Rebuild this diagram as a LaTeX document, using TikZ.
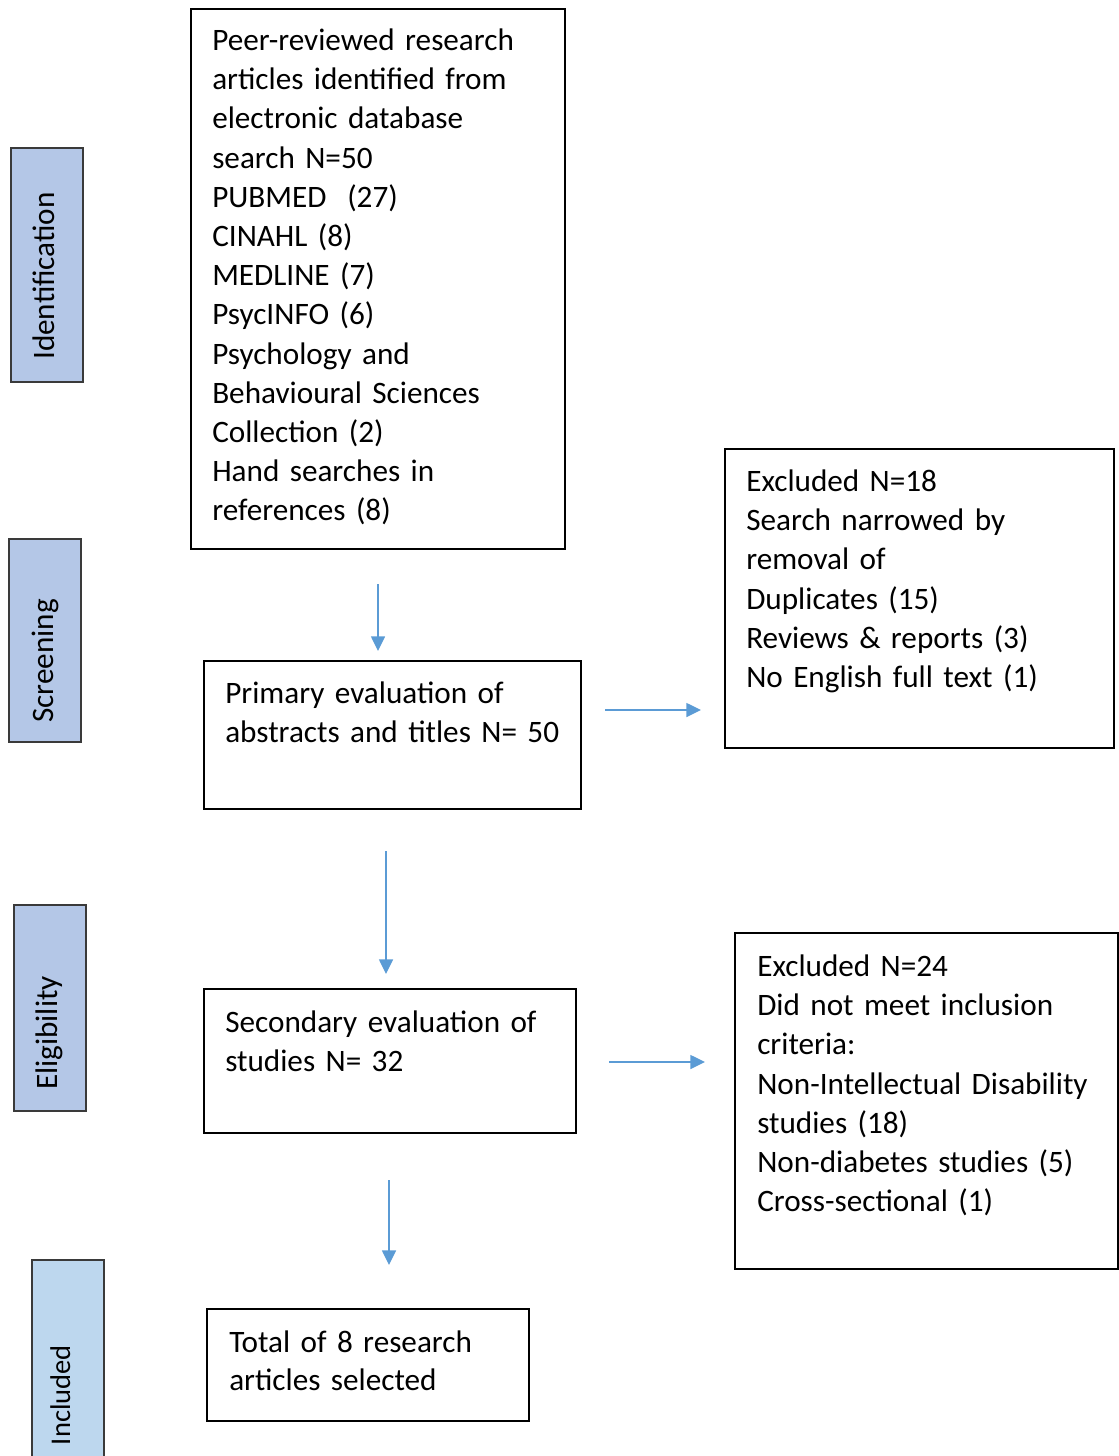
\documentclass[tikz,border=0pt]{standalone}
\usepackage{fontspec}
\setmainfont{Carlito}
\usetikzlibrary{arrows.meta}
\definecolor{stagefill}{HTML}{B4C7E7}
\definecolor{stagefilllight}{HTML}{BDD7EE}
\definecolor{stageborder}{HTML}{3A3A3A}
\definecolor{flowblue}{HTML}{5B9BD5}
\begin{document}
\begin{tikzpicture}[x=0.75pt,y=-0.75pt,
  box/.style={draw=black,line width=1.5pt},
  stagebox/.style={draw=stageborder,line width=1.3pt,fill=stagefill},
  stagetext/.style={anchor=base,rotate=90,inner sep=0pt,font=\fontsize{23.4pt}{28pt}\selectfont},
  boxtext/.style={anchor=base west,inner sep=0pt,text width=400pt,align=left,
    font=\fontsize{23.4pt}{29.4pt}\selectfont},
  flow/.style={draw=flowblue,line width=1.1pt,-{Triangle[length=11pt,width=10.5pt]}}]
\useasboundingbox (0,0) rectangle (1119,1456);
\clip (0,0) rectangle (1119,1456);

% stage labels on the left
\draw[stagebox] (11,148) rectangle (83,382);
\node[stagetext] (tIdent) at (54,276) {Identification};
\draw[stagebox] (9,539) rectangle (81,742);
\node[stagetext] (tScreen) at (53,661) {Screening};
\draw[stagebox] (14,905) rectangle (86,1111);
\node[stagetext] (tElig) at (57,1033) {Eligibility};
\draw[stagebox,fill=stagefilllight] (32,1260) rectangle (104,1480);
\node[stagetext,font=\fontsize{21.4pt}{26pt}\selectfont] (tIncl) at (70,1395) {Included};

% flow boxes
\draw[box] (191,9) rectangle (565,549);
\node[boxtext] (search) at (212,50.5) {Peer-reviewed research\\articles identified from\\electronic database\\search N=50\\PUBMED\ \ (27)\\CINAHL (8)\\MEDLINE (7)\\PsycINFO (6)\\Psychology and\\Behavioural Sciences\\Collection (2)\\Hand searches in\\references (8)};

\draw[box] (204,661) rectangle (581,809);
\node[boxtext] (primary) at (225,703.5) {Primary evaluation of\\abstracts and titles N= 50};

\draw[box] (725,449) rectangle (1114,748);
\node[boxtext] (excl1) at (746,491.5) {Excluded N=18\\Search narrowed by\\removal of\\Duplicates (15)\\Reviews \& reports (3)\\No English full text (1)};

\draw[box] (204,989) rectangle (576,1133);
\node[boxtext] (secondary) at (225,1032.5) {Secondary evaluation of\\studies N= 32};

\draw[box] (735,933) rectangle (1118,1269);
\node[boxtext] (excl2) at (757,976.5) {Excluded N=24\\Did not meet inclusion\\criteria:\\Non-Intellectual Disability\\studies (18)\\Non-diabetes studies (5)\\Cross-sectional (1)};

\draw[box] (207,1309) rectangle (529,1421);
\node[boxtext,font=\fontsize{23.4pt}{28.5pt}\selectfont] (total) at (229,1352.5) {Total of 8 research\\articles selected};

% connectors
\coordinate (a1s) at (378,584); \coordinate (a1e) at (378,651);
\coordinate (a2s) at (605,710); \coordinate (a2e) at (701,710);
\coordinate (a3s) at (386,851); \coordinate (a3e) at (386,974);
\coordinate (a4s) at (609,1062); \coordinate (a4e) at (705,1062);
\coordinate (a5s) at (389,1180); \coordinate (a5e) at (389,1265);
\draw[flow] (a1s) -- (a1e);
\draw[flow] (a2s) -- (a2e);
\draw[flow] (a3s) -- (a3e);
\draw[flow] (a4s) -- (a4e);
\draw[flow] (a5s) -- (a5e);
\end{tikzpicture}
\end{document}
